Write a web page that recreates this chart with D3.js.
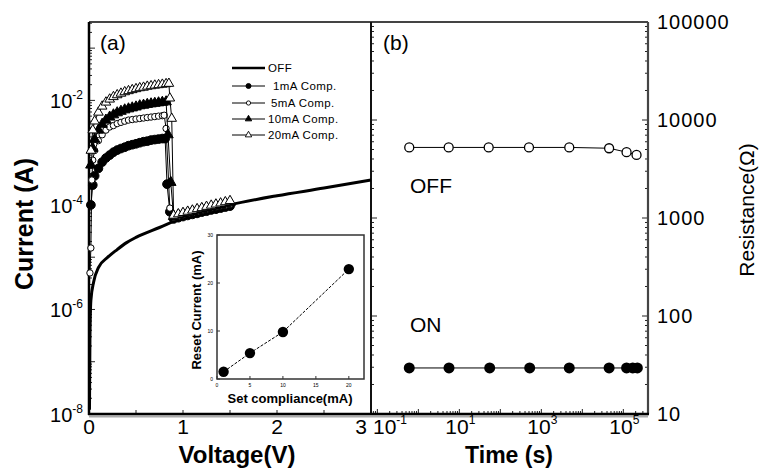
<!DOCTYPE html>
<html><head><meta charset="utf-8">
<script src="https://cdn.jsdelivr.net/npm/d3@7"></script>
<style>body{margin:0;background:#fff}svg{display:block}text{font-family:"Liberation Sans",Arial,sans-serif;fill:#000}</style>
</head><body><svg id="c" width="761" height="475"></svg>
<script>
// ---------- DATA ----------
// Panel (a): OFF curve
const offV = [0.005,0.01,0.02,0.05,0.1,0.2,0.3,0.4,0.5,0.75,1.0,1.5,2.0,2.5,3.0];
const offI = [1.2e-8,2.7e-7,1.5e-6,3.4e-6,6.3e-6,1.0e-5,1.4e-5,1.9e-5,2.4e-5,3.7e-5,5.7e-5,1.0e-4,1.5e-4,2.1e-4,3.0e-4];
const postV = [0.90,0.95,1.00,1.05,1.10,1.15,1.20,1.25,1.30,1.35,1.40,1.45,1.50];
// 1 mA compliance
const c1V = [0.02,0.04,0.06,0.10,0.14,0.18,0.22,0.26,0.30,0.34,0.38,0.42,0.46,0.50,0.54,0.58,0.62,0.66,0.70,0.74,0.78,0.81,0.83,0.86];
const c1I = [1.0e-4,2.4e-4,3.6e-4,5.0e-4,6.6e-4,7.9e-4,9.0e-4,1.02e-3,1.12e-3,1.2e-3,1.27e-3,1.36e-3,1.42e-3,1.48e-3,1.55e-3,1.62e-3,1.66e-3,1.74e-3,1.78e-3,1.82e-3,1.86e-3,1.86e-3,2.5e-4,7.4e-5];
const c1Post = [5.4e-5,5.7e-5,6.0e-5,6.3e-5,6.6e-5,6.9e-5,7.3e-5,7.6e-5,8.0e-5,8.3e-5,8.7e-5,9.1e-5,9.5e-5];
// 5 mA compliance
const c5V = [0.01,0.02,0.03,0.04,0.06,0.10,0.14,0.18,0.22,0.26,0.30,0.34,0.38,0.42,0.46,0.50,0.54,0.58,0.62,0.66,0.70,0.74,0.78,0.80,0.82,0.86];
const c5I = [5e-6,1.5e-5,3e-4,7.2e-4,1.1e-3,1.7e-3,2.2e-3,2.7e-3,3.1e-3,3.3e-3,3.6e-3,3.8e-3,4.0e-3,4.2e-3,4.3e-3,4.4e-3,4.5e-3,4.6e-3,4.7e-3,4.8e-3,4.9e-3,5.0e-3,5.1e-3,5.2e-3,2.9e-3,8.7e-5];
const c5Post = [5.8e-5,6.1e-5,6.4e-5,6.8e-5,7.1e-5,7.5e-5,7.9e-5,8.3e-5,8.7e-5,9.1e-5,9.5e-5,9.9e-5,1.03e-4];
// 10 mA compliance
const c10V = [0.02,0.04,0.06,0.10,0.14,0.18,0.22,0.26,0.30,0.34,0.38,0.42,0.46,0.50,0.54,0.58,0.62,0.66,0.70,0.74,0.78,0.82,0.84,0.87];
const c10I = [5.8e-4,1.2e-3,1.8e-3,2.7e-3,3.5e-3,4.2e-3,4.8e-3,5.3e-3,5.8e-3,6.2e-3,6.6e-3,6.9e-3,7.2e-3,7.5e-3,7.9e-3,8.1e-3,8.4e-3,8.6e-3,8.8e-3,9.0e-3,9.2e-3,9.4e-3,2.2e-3,2.7e-4];
const c10Post = [6.0e-5,6.4e-5,6.7e-5,7.1e-5,7.5e-5,7.9e-5,8.3e-5,8.7e-5,9.1e-5,9.6e-5,1.0e-4,1.05e-4,1.1e-4];
// 20 mA compliance
const c20V = [0.02,0.04,0.06,0.10,0.14,0.18,0.22,0.26,0.30,0.34,0.38,0.42,0.46,0.50,0.54,0.58,0.62,0.66,0.70,0.74,0.78,0.82,0.85,0.86,0.88];
const c20I = [1.1e-3,2.7e-3,4.0e-3,5.9e-3,7.7e-3,9.2e-3,1.05e-2,1.17e-2,1.27e-2,1.36e-2,1.45e-2,1.52e-2,1.59e-2,1.66e-2,1.73e-2,1.77e-2,1.85e-2,1.89e-2,1.94e-2,1.98e-2,2.02e-2,2.07e-2,2.1e-2,1.1e-2,4.5e-3];
const c20Post = [6.3e-5,6.7e-5,7.1e-5,7.5e-5,7.9e-5,8.4e-5,8.8e-5,9.3e-5,9.8e-5,1.03e-4,1.08e-4,1.14e-4,1.2e-4];
const legendLabels = ["OFF","1mA Comp.","5mA Comp.","10mA Comp.","20mA Comp."];
const voltTicks = [0,1,2,3];
const currentTickExp = [-2,-4,-6,-8];
// Inset
const setCompliance = [1,5,10,20];
const resetCurrent = [1.5,5.4,9.8,22.9];
const insetXTicks = [0,5,10,15,20];
const insetYTicks = [0,10,20,30];
// Panel (b): retention
const timeOff = [0.6,5.5,52,500,4800,45000,1.2e5,2.1e5];
const resOff = [5250,5250,5250,5250,5250,5150,4700,4400];
const timeOn = [0.6,5.6,55,520,4800,45000,1.2e5,1.7e5,2.2e5];
const resOn = [29.5,29.5,29.5,29.5,29.5,29.5,29.5,29.5,29.5];
const timeTickExp = [-1,1,3,5];
const resTicks = [10,100,1000,10000,100000];

// ---------- SCALES ----------
const svg = d3.select("#c");
const L=89, M=371, R=648, T=22, B=414;
const xa = d3.scaleLinear().domain([0,3]).range([L,M]);
const ya = d3.scaleLog().domain([1e-8, Math.pow(10,-0.5)]).range([B,T]);
const xb = d3.scaleLog().domain([0.07, 4e5]).range([M,R]);
const yb = d3.scaleLog().domain([10,1e5]).range([B,T]);
const xi = d3.scaleLinear().domain([0,22.3]).range([217,364]);
const yi = d3.scaleLinear().domain([0,30]).range([379,235]);

// ---------- TICKS ----------
function logMinor(lo, hi){const out=[];for(let e=Math.floor(Math.log10(lo));e<=Math.ceil(Math.log10(hi));e++){for(let k=1;k<10;k++){const v=k*Math.pow(10,e);if(v>=lo*0.999&&v<=hi*1.001)out.push({v,major:k===1});}}return out;}
const tk = svg.append("g").attr("stroke","#222").attr("stroke-width",1);
logMinor(1e-8,0.3).forEach(d=>{const y=ya(d.v);tk.append("line").attr("x1",L).attr("x2",L+(d.major?6:3)).attr("y1",y).attr("y2",y);});
[0.5,1,1.5,2,2.5].forEach(v=>{tk.append("line").attr("x1",xa(v)).attr("x2",xa(v)).attr("y1",B).attr("y2",B-4);});
logMinor(0.07,4e5).forEach(d=>{const x=xb(d.v);tk.append("line").attr("x1",x).attr("x2",x).attr("y1",B).attr("y2",B-(d.major?5:3));});
logMinor(10,1e5).forEach(d=>{const y=yb(d.v);const l=d.major?6:3;
  tk.append("line").attr("x1",R).attr("x2",R-l).attr("y1",y).attr("y2",y);
  tk.append("line").attr("x1",M).attr("x2",M+l).attr("y1",y).attr("y2",y);});

// ---------- FRAME ----------
const fr = svg.append("g").attr("fill","none");
fr.append("line").attr("x1",L).attr("x2",R).attr("y1",B+2.5).attr("y2",B+2.5).attr("stroke","#aaa").attr("stroke-width",2);
fr.append("line").attr("x1",L).attr("x2",R).attr("y1",T).attr("y2",T).attr("stroke","#444").attr("stroke-width",2.2);
fr.append("line").attr("x1",R).attr("x2",R).attr("y1",T).attr("y2",B).attr("stroke","#444").attr("stroke-width",2.2);
fr.append("line").attr("x1",M).attr("x2",M).attr("y1",T).attr("y2",B).attr("stroke","#111").attr("stroke-width",2);
fr.append("line").attr("x1",L).attr("x2",L).attr("y1",T).attr("y2",B+1).attr("stroke","#000").attr("stroke-width",2.5);
fr.append("line").attr("x1",L-1).attr("x2",R+1).attr("y1",B).attr("y2",B).attr("stroke","#000").attr("stroke-width",2.5);

// ---------- TICK LABELS ----------
const lab = svg.append("g");
function sup(g,x,y,base,ex,anchor,fs,sfs,dy){const t=g.append("text").attr("x",x).attr("y",y).attr("text-anchor",anchor).attr("font-size",fs);t.append("tspan").text(base);t.append("tspan").attr("dy",dy).attr("font-size",sfs).text(ex);return t;}
currentTickExp.forEach(e=>sup(lab,83,ya(Math.pow(10,e))+8,"10",String(e),"end",20,12,-9));
voltTicks.forEach(v=>lab.append("text").attr("x",xa(v)+(v===3?-10:0)).attr("y",434).attr("text-anchor","middle").attr("font-size",21).text(v));
timeTickExp.forEach(e=>{ if(e===-1) sup(lab,373,434,"10",String(e),"start",21,12,-10); else sup(lab,xb(Math.pow(10,e))+1,434,"10",String(e),"middle",21,12,-10);});
resTicks.forEach(v=>lab.append("text").attr("x",657).attr("y",yb(v)+7).attr("font-size",20).attr("letter-spacing",1).text(v));

// ---------- AXIS TITLES ----------
svg.append("text").attr("transform","translate(33,224) rotate(-90)").attr("text-anchor","middle").attr("font-size",25).attr("font-weight","bold").text("Current (A)");
svg.append("text").attr("x",237).attr("y",463).attr("text-anchor","middle").attr("font-size",24).attr("font-weight","bold").text("Voltage(V)");
svg.append("text").attr("x",509).attr("y",463).attr("text-anchor","middle").attr("font-size",23).attr("font-weight","bold").text("Time (s)");
svg.append("text").attr("transform","translate(754,210) rotate(-90)").attr("text-anchor","middle").attr("font-size",21).text("Resistance(\u03A9)");
svg.append("text").attr("x",100).attr("y",50).attr("font-size",21).text("(a)");
svg.append("text").attr("x",383).attr("y",50).attr("font-size",21).text("(b)");
svg.append("text").attr("x",410).attr("y",193).attr("font-size",21).text("OFF");
svg.append("text").attr("x",410).attr("y",332).attr("font-size",21).text("ON");

// ---------- PANEL (a) CURVES ----------
const pa = svg.append("g");
const lineA = d3.line().x(d=>xa(d[0])).y(d=>ya(d[1]));
pa.append("path").datum(offV.map((v,i)=>[v,offI[i]])).attr("d",lineA.curve(d3.curveMonotoneX)).attr("fill","none").attr("stroke","#000").attr("stroke-width",3);
const lineS = d3.line().x(d=>xa(d[0])).y(d=>ya(d[1]));
const series = [
  {V:c1V,I:c1I,P:c1Post,sym:d3.symbolCircle,size:60,fill:"#000"},
  {V:c5V,I:c5I,P:c5Post,sym:d3.symbolCircle,size:32,fill:"#fff"},
  {V:c10V,I:c10I,P:c10Post,sym:d3.symbolTriangle,size:48,fill:"#000"},
  {V:c20V,I:c20I,P:c20Post,sym:d3.symbolTriangle,size:40,fill:"#fff"}
];
series.forEach(s=>{
  const pts = s.V.map((v,i)=>[v,s.I[i]]).concat(postV.map((v,i)=>[v,s.P[i]]));
  pa.append("path").datum(pts).attr("d",lineS).attr("fill","none").attr("stroke","#000").attr("stroke-width",1);
  pa.selectAll(null).data(pts).enter().append("path")
    .attr("transform",d=>`translate(${xa(d[0])},${ya(d[1])})`)
    .attr("d",d3.symbol().type(s.sym).size(s.size))
    .attr("fill",s.fill).attr("stroke","#000").attr("stroke-width",1);
});

// ---------- LEGEND ----------
const lg = svg.append("g");
const legY = [68,86,103,119,135];
legendLabels.forEach((t,i)=>{
  const y=legY[i];
  lg.append("line").attr("x1",232).attr("x2",265).attr("y1",y).attr("y2",y).attr("stroke","#000").attr("stroke-width",i===0?2.5:1);
  if(i>0){const s=series[i-1];
    lg.append("path").attr("transform",`translate(248.5,${y})`).attr("d",d3.symbol().type(s.sym).size(i===1?20:(i===2?14:18))).attr("fill",s.fill).attr("stroke","#000").attr("stroke-width",0.9);}
  lg.append("text").attr("x",i===1?273:(i===2?271:268)).attr("y",y+4).attr("font-size",11.5).attr("letter-spacing",0.4).text(t);
});

// ---------- INSET ----------
const ins = svg.append("g");
ins.append("rect").attr("x",217).attr("y",235).attr("width",147).attr("height",144).attr("fill","#fff").attr("stroke","#333").attr("stroke-width",1.5);
insetXTicks.forEach(v=>{ins.append("line").attr("x1",xi(v)).attr("x2",xi(v)).attr("y1",379).attr("y2",376).attr("stroke","#333");
  ins.append("text").attr("x",xi(v)).attr("y",387).attr("text-anchor","middle").attr("font-size",5).text(v);});
insetYTicks.forEach(v=>{ins.append("line").attr("x1",217).attr("x2",220).attr("y1",yi(v)).attr("y2",yi(v)).attr("stroke","#333");
  ins.append("text").attr("x",213).attr("y",yi(v)+2).attr("text-anchor","end").attr("font-size",5).text(v);});
ins.append("path").datum(setCompliance.map((v,i)=>[v,resetCurrent[i]]))
  .attr("d",d3.line().x(d=>xi(d[0])).y(d=>yi(d[1]))).attr("fill","none").attr("stroke","#000").attr("stroke-width",1).attr("stroke-dasharray","3,1.5");
ins.selectAll(null).data(setCompliance).enter().append("circle").attr("cx",d=>xi(d)).attr("cy",(d,i)=>yi(resetCurrent[i])).attr("r",5.2).attr("fill","#000");
ins.append("text").attr("transform","translate(201,310) rotate(-90)").attr("text-anchor","middle").attr("font-size",13).attr("font-weight","bold").text("Reset Current (mA)");
ins.append("text").attr("x",290).attr("y",403).attr("text-anchor","middle").attr("font-size",13).attr("font-weight","bold").text("Set compliance(mA)");

// ---------- PANEL (b) ----------
const pb = svg.append("g");
const lineB = d3.line().x(d=>xb(d[0])).y(d=>yb(d[1]));
const offPts = timeOff.map((t,i)=>[t,resOff[i]]);
const onPts = timeOn.map((t,i)=>[t,resOn[i]]);
pb.append("path").datum(offPts).attr("d",lineB).attr("fill","none").attr("stroke","#000").attr("stroke-width",1);
pb.append("path").datum(onPts).attr("d",lineB).attr("fill","none").attr("stroke","#000").attr("stroke-width",1);
pb.selectAll(null).data(offPts).enter().append("circle").attr("cx",d=>xb(d[0])).attr("cy",d=>yb(d[1])).attr("r",4.5).attr("fill","#fff").attr("stroke","#000").attr("stroke-width",1.3);
pb.selectAll(null).data(onPts).enter().append("circle").attr("cx",d=>xb(d[0])).attr("cy",d=>yb(d[1])).attr("r",5.5).attr("fill","#000");
</script></body></html>
